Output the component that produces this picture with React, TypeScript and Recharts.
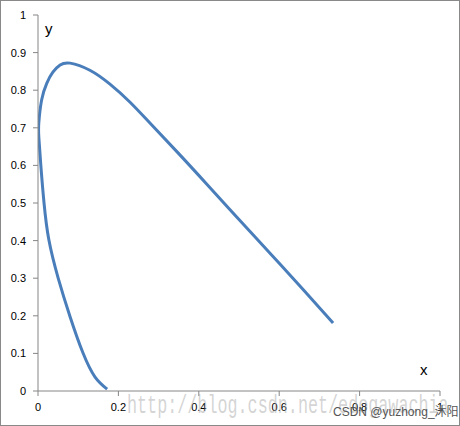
import React from 'react';
import { LineChart, Line, XAxis, YAxis } from 'recharts';

const xValues = [0.172, 0.142, 0.112, 0.080, 0.050, 0.027, 0.015, 0.007, 0.002, 0.002, 0.009, 0.022, 0.037, 0.055, 0.080, 0.129, 0.179, 0.229, 0.279, 0.346, 0.420, 0.500, 0.580, 0.660, 0.734];
const yValues = [0.005, 0.037, 0.101, 0.197, 0.301, 0.402, 0.500, 0.601, 0.676, 0.713, 0.774, 0.819, 0.848, 0.867, 0.872, 0.853, 0.816, 0.768, 0.712, 0.636, 0.550, 0.456, 0.363, 0.269, 0.181];

const xTicks = [0, 0.2, 0.4, 0.6, 0.8, 1];
const yTicks = [0, 0.1, 0.2, 0.3, 0.4, 0.5, 0.6, 0.7, 0.8, 0.9, 1];

const AXIS_GRAY = '#868686';
const LINE_BLUE = '#4A7EBB';
const FONT = '"Liberation Sans", Arial, sans-serif';

const fmt = (v: number) => String(Math.round(v * 10) / 10);

export default function App() {
  const data = xValues.map((x, i) => ({ x, y: yValues[i] }));

  return (
    <div
      style={{
        position: 'absolute',
        left: 0,
        top: 0,
        width: 460,
        height: 426,
        boxSizing: 'border-box',
        border: '1px solid #898989',
        background: '#fff',
        fontFamily: FONT,
        overflow: 'hidden',
      }}
    >
      <div style={{ position: 'absolute', left: -1, top: -1 }}>
        <LineChart width={460} height={426} data={data} margin={{ top: 15, right: 20, left: 0, bottom: 5 }}>
          <XAxis
            dataKey="x"
            type="number"
            domain={[0, 1]}
            ticks={xTicks}
            tickFormatter={fmt}
            allowDataOverflow
            stroke={AXIS_GRAY}
            tickSize={5}
            tickMargin={7}
            height={30}
            tick={{ fill: '#000', fontSize: 11, fontFamily: FONT }}
          />
          <YAxis
            dataKey="y"
            type="number"
            domain={[0, 1]}
            ticks={yTicks}
            tickFormatter={fmt}
            allowDataOverflow
            stroke={AXIS_GRAY}
            tickSize={5}
            tickMargin={7}
            width={38}
            tick={{ fill: '#000', fontSize: 11, fontFamily: FONT }}
          />
          <Line
            dataKey="y"
            type="natural"
            stroke={LINE_BLUE}
            strokeWidth={3}
            dot={false}
            isAnimationActive={false}
          />
        </LineChart>
      </div>
      <div style={{ position: 'absolute', left: 44, top: 19, fontSize: 15, color: '#000' }}>y</div>
      <div style={{ position: 'absolute', left: 419, top: 360, fontSize: 15, color: '#000' }}>x</div>
      <div
        style={{
          position: 'absolute',
          left: 126,
          top: 393,
          fontSize: 25,
          lineHeight: '25px',
          fontFamily: '"Liberation Mono", "DejaVu Sans Mono", monospace',
          color: 'rgba(170,170,170,0.5)',
          whiteSpace: 'nowrap',
          transform: 'scaleX(0.67)',
          transformOrigin: 'left top',
        }}
      >
        http://blog.csdn.net/edogawachia
      </div>
      <div
        style={{
          position: 'absolute',
          left: 332,
          top: 401,
          fontSize: 12,
          color: '#555',
          whiteSpace: 'nowrap',
          fontFamily: '"Liberation Sans", "Noto Sans CJK SC", sans-serif',
        }}
      >
        CSDN @yuzhong_沐阳
      </div>
    </div>
  );
}
